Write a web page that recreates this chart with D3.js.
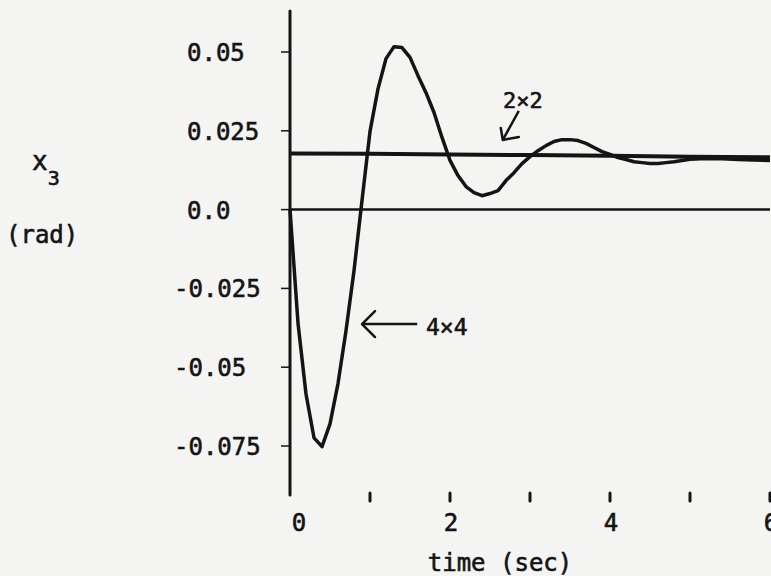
<!DOCTYPE html>
<html>
<head>
<meta charset="utf-8">
<script src="https://cdn.jsdelivr.net/npm/d3@7"></script>
<style>
  html, body { margin: 0; padding: 0; background: #f4f4f2; }
  svg { display: block; }
  text { font-family: "DejaVu Sans Mono", monospace; fill: #141414; stroke: #141414; stroke-width: 0.6; }
</style>
</head>
<body>
<svg width="771" height="576"></svg>
<script>
// datos (x3 en rad, tiempo en s)
const tiempo4 = [0, 0.1, 0.2, 0.3, 0.4, 0.5, 0.6, 0.7, 0.8, 0.9,
                 1.0, 1.1, 1.2, 1.3, 1.4, 1.5, 1.6, 1.7, 1.8, 1.9,
                 2.0, 2.1, 2.2, 2.3, 2.4, 2.5, 2.6, 2.7, 2.8, 2.9,
                 3.0, 3.1, 3.2, 3.3, 3.4, 3.5, 3.6, 3.7, 3.8, 3.9,
                 4.0, 4.1, 4.2, 4.3, 4.4, 4.5, 4.6, 4.7, 4.8, 4.9,
                 5.0, 5.2, 5.4, 5.6, 5.8, 6.0];
const x3_4x4 = [0, -0.0360, -0.0585, -0.0724, -0.0752, -0.0680, -0.0552, -0.0384, -0.0194, 0.0029,
                0.0248, 0.0383, 0.0479, 0.0517, 0.0514, 0.0483, 0.0425, 0.0371, 0.0308, 0.0229,
                0.0156, 0.0108, 0.0073, 0.0054, 0.0044, 0.0051, 0.0060, 0.0092, 0.0117, 0.0146,
                0.0168, 0.0187, 0.0203, 0.0216, 0.0222, 0.0222, 0.0219, 0.0210, 0.0197, 0.0184,
                0.0175, 0.0165, 0.0159, 0.0152, 0.0149, 0.0146, 0.0146, 0.0149, 0.0152, 0.0156,
                0.0160, 0.0162, 0.0161, 0.0159, 0.0157, 0.0156];
const tiempo2 = [0, 1, 2, 3, 4, 5, 6];
const x3_2x2 = [0.0178, 0.0177, 0.0175, 0.0173, 0.0171, 0.0168, 0.0166];

const ticksY = [0.05, 0.025, 0.0, -0.025, -0.05, -0.075];
const etiquetasY = ['0.05', '0.025', '0.0', '-0.025', '-0.05', '-0.075'];
const ticksX = [1, 2, 3, 4, 5, 6];
const etiquetasX = [0, 2, 4, 6];

const svg = d3.select('svg');

const x = d3.scaleLinear().domain([0, 6]).range([290, 770]);
const y = d3.scaleLinear().domain([0.05, -0.075]).range([52, 446]);

const tinta = '#141414';

// eje vertical
svg.append('line')
    .attr('x1', x(0)).attr('x2', x(0))
    .attr('y1', 11).attr('y2', 495)
    .attr('stroke', tinta).attr('stroke-width', 3).attr('stroke-linecap', 'round');

// marcas del eje y (a la izquierda) + etiquetas
const ejeY = svg.append('g');
ejeY.selectAll('line')
    .data(ticksY)
    .join('line')
        .attr('x1', x(0) - 9).attr('x2', x(0))
        .attr('y1', d => y(d)).attr('y2', d => y(d))
        .attr('stroke', tinta).attr('stroke-width', 1.5);

// el signo menos cuelga a la izquierda de la columna de digitos
ejeY.selectAll('text')
    .data(ticksY)
    .join('text')
        .attr('x', d => d < 0 ? 174 : 187)
        .attr('y', d => y(d) + 9)
        .attr('font-size', 24)
        .text((d, i) => etiquetasY[i]);

// marcas del eje x (pequeños guiones)
svg.append('g').selectAll('line')
    .data(ticksX)
    .join('line')
        .attr('x1', d => x(d)).attr('x2', d => x(d))
        .attr('y1', 493).attr('y2', 501)
        .attr('stroke', tinta).attr('stroke-width', 3).attr('stroke-linecap', 'round');

svg.append('g').selectAll('text')
    .data(etiquetasX)
    .join('text')
        .attr('x', d => x(d) + (d === 0 ? 9 : 1))
        .attr('y', 531)
        .attr('font-size', 24)
        .attr('text-anchor', 'middle')
        .text(d => d);

// linea de cero
svg.append('line')
    .attr('x1', x(0)).attr('x2', x(6))
    .attr('y1', y(0)).attr('y2', y(0))
    .attr('stroke', tinta).attr('stroke-width', 2.5);

const linea = d3.line()
    .x(d => x(d[0]))
    .y(d => y(d[1]));

// respuesta 2x2
svg.append('path')
    .attr('d', linea(d3.zip(tiempo2, x3_2x2)))
    .attr('fill', 'none')
    .attr('stroke', tinta)
    .attr('stroke-width', 4);

// respuesta 4x4
svg.append('path')
    .attr('d', linea(d3.zip(tiempo4, x3_4x4)))
    .attr('fill', 'none')
    .attr('stroke', tinta)
    .attr('stroke-width', 3.5)
    .attr('stroke-linejoin', 'round');

// anotaciones
const flecha4 = { punta: [0.9, -0.0363], cola: [1.59, -0.0363], texto: [1.7, -0.0398] };
const flecha2 = { punta: [2.66, 0.0221], cola: [2.86, 0.0313], texto: [2.91, 0.0322] };

svg.append('line')
    .attr('x1', x(flecha4.punta[0])).attr('y1', y(flecha4.punta[1]))
    .attr('x2', x(flecha4.cola[0])).attr('y2', y(flecha4.cola[1]))
    .attr('stroke', tinta).attr('stroke-width', 2.5);
svg.append('path')
    .attr('transform', `translate(${x(flecha4.punta[0])}, ${y(flecha4.punta[1])})`)
    .attr('d', 'M13,-13 L0,0 L13,13')
    .attr('fill', 'none').attr('stroke', tinta).attr('stroke-width', 2.5)
    .attr('stroke-linecap', 'round').attr('stroke-linejoin', 'round');
svg.append('text')
    .attr('x', x(flecha4.texto[0])).attr('y', y(flecha4.texto[1]))
    .attr('font-size', 23)
    .text('4×4');

svg.append('line')
    .attr('x1', x(flecha2.punta[0])).attr('y1', y(flecha2.punta[1]))
    .attr('x2', x(flecha2.cola[0])).attr('y2', y(flecha2.cola[1]))
    .attr('stroke', tinta).attr('stroke-width', 2.5);
svg.append('path')
    .attr('transform', `translate(${x(flecha2.punta[0])}, ${y(flecha2.punta[1])})`)
    .attr('d', 'M-2,-12 L0,0 L16,-3')
    .attr('fill', 'none').attr('stroke', tinta).attr('stroke-width', 2.5)
    .attr('stroke-linecap', 'round').attr('stroke-linejoin', 'round');
svg.append('text')
    .attr('x', x(flecha2.texto[0])).attr('y', y(flecha2.texto[1]))
    .attr('font-size', 22)
    .attr('text-anchor', 'middle')
    .text('2×2');

// titulos de ejes
const tituloY = svg.append('text')
    .attr('x', 32).attr('y', 170)
    .attr('font-size', 26);
tituloY.append('tspan').text('x');
tituloY.append('tspan').attr('dy', 15).attr('font-size', 20).text('3');

svg.append('text')
    .attr('x', 6).attr('y', 243)
    .attr('font-size', 24)
    .text('(rad)');

svg.append('text')
    .attr('x', 500).attr('y', 571)
    .attr('font-size', 24)
    .attr('text-anchor', 'middle')
    .text('time (sec)');
</script>
</body>
</html>
